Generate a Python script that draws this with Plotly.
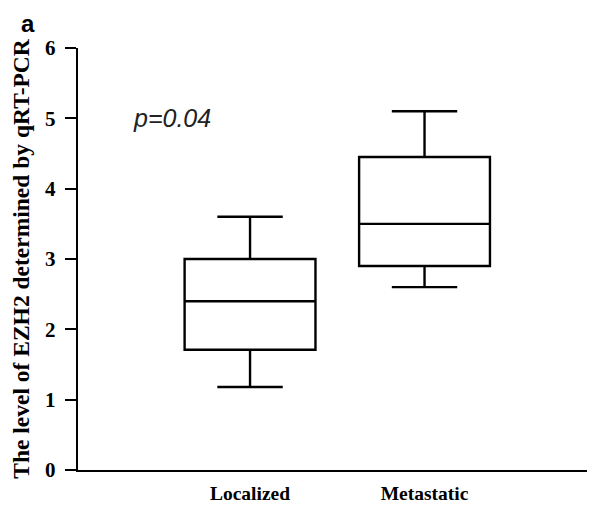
import plotly.graph_objects as go

categories = ["Localized", "Metastatic"]
lower_whisker = [1.18, 2.6]
q1_vals = [1.71, 2.9]
medians = [2.4, 3.5]
q3_vals = [3.0, 4.45]
upper_whisker = [3.6, 5.1]
y_ticks = [0, 1, 2, 3, 4, 5, 6]
p_text = "p=0.04"

fig = go.Figure()
for i, cat in enumerate(categories):
    fig.add_trace(go.Box(
        x=[i], q1=[q1_vals[i]], median=[medians[i]], q3=[q3_vals[i]],
        lowerfence=[lower_whisker[i]], upperfence=[upper_whisker[i]],
        width=0.75, whiskerwidth=0.5,
        line=dict(color="black", width=2.4),
        fillcolor="rgba(0,0,0,0)", boxpoints=False, showlegend=False,
        hoverinfo="skip",
    ))

fig.update_layout(
    width=587, height=506,
    margin=dict(l=70, r=0, t=40, b=44),
    plot_bgcolor="white", paper_bgcolor="white",
    font=dict(family="Liberation Serif", color="black"),
)
fig.update_xaxes(
    range=[-0.986, 1.977], tickvals=[0, 1], ticktext=categories,
    showline=True, linecolor="black", linewidth=2.4, ticks="",
    showgrid=False, zeroline=False, ticklabelstandoff=4, automargin=False,
    tickfont=dict(family="Liberation Serif", size=19.5, color="black", weight="bold"),
)
fig.update_yaxes(
    range=[0, 6], tickvals=y_ticks, showline=True, linecolor="black", linewidth=2.4,
    ticks="outside", ticklen=11, tickwidth=2.4, tickcolor="black",
    showgrid=False, zeroline=False, automargin=False, ticklabelstandoff=5,
    tickfont=dict(family="Liberation Serif", size=21, color="black", weight="bold"),
    title=dict(text="The level of EZH2 determined by qRT-PCR", standoff=22,
               font=dict(family="Liberation Serif", size=23.5, color="black", weight="bold")),
)
fig.add_annotation(x=-0.447, y=5.0, xref="x", yref="y", text=p_text, showarrow=False,
                   font=dict(family="Liberation Sans", size=25, color="#222", style="italic"))
fig.add_annotation(xref="paper", yref="paper", x=-0.0967, y=1.0925, xanchor="center", yanchor="top",
                   text="<b>a</b>", showarrow=False, borderpad=0,
                   font=dict(family="Liberation Sans", size=24, color="black"))

fig.write_html("out.html")
